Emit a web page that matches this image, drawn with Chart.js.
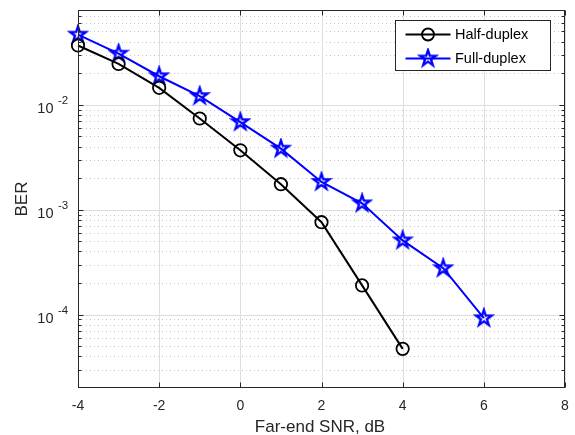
<!DOCTYPE html>
<html><head><meta charset="utf-8">
<script src="https://cdn.jsdelivr.net/npm/chart.js@4/dist/chart.umd.min.js"></script>
<style>html,body{margin:0;padding:0;background:#fff;}</style>
</head><body>
<canvas id="c" width="575" height="435"></canvas>
<script>
// ---- data ----
const snr = [-4, -3, -2, -1, 0, 1, 2, 3, 4, 5, 6];
const halfDuplex = [0.0367, 0.0245, 0.0145, 0.0074, 0.00368, 0.00175, 0.00076, 0.00019, 0.0000472];
const fullDuplex = [0.0466, 0.0307, 0.0187, 0.0121, 0.00684, 0.00382, 0.00184, 0.00115, 0.00051, 0.000277, 0.0000925];
const seriesLabels = ['Half-duplex', 'Full-duplex'];
const xTicks = [-4, -2, 0, 2, 4, 6, 8];
const yMajorExps = [-4, -3, -2];
const xTitle = 'Far-end SNR, dB';
const yTitle = 'BER';

const FONT = '"Liberation Sans", Arial, Helvetica, sans-serif';
const AX = '#262626';

function minorVals() {
  const v = [];
  for (let e = -5; e <= -2; e++) for (let m = 2; m <= 9; m++) {
    const val = m * Math.pow(10, e);
    if (val > 2.01e-5 && val < 0.0799) v.push(val);
  }
  return v;
}

function makeStar(size, R, lw, color) {
  const c = document.createElement('canvas');
  c.width = size; c.height = size;
  const g = c.getContext('2d');
  const cx = size / 2, cy = size / 2, r = R * 0.382;
  g.beginPath();
  for (let i = 0; i < 10; i++) {
    const ang = -Math.PI / 2 + i * Math.PI / 5;
    const rr = i % 2 === 0 ? R : r;
    const px = cx + rr * Math.cos(ang), py = cy + rr * Math.sin(ang);
    if (i === 0) g.moveTo(px, py); else g.lineTo(px, py);
  }
  g.closePath();
  g.lineJoin = 'miter';
  g.strokeStyle = color; g.lineWidth = lw; g.stroke();
  return c;
}
const starImg = makeStar(22, 8.3, 2.3, '#0000ff');

const gridPlugin = {
  id: 'matlabGrid',
  beforeDatasetsDraw(chart) {
    const {ctx, chartArea: a, scales: {x, y}} = chart;
    ctx.save();
    ctx.lineWidth = 1;
    ctx.strokeStyle = '#c8c8c8';
    ctx.setLineDash([1, 3]);
    for (const v of minorVals()) {
      const py = Math.round(y.getPixelForValue(v)) + 0.5;
      ctx.beginPath(); ctx.moveTo(a.left, py); ctx.lineTo(a.right, py); ctx.stroke();
    }
    ctx.setLineDash([]);
    ctx.strokeStyle = '#dedede';
    for (const t of xTicks) {
      const px = Math.round(x.getPixelForValue(t)) + 0.5;
      ctx.beginPath(); ctx.moveTo(px, a.top); ctx.lineTo(px, a.bottom); ctx.stroke();
    }
    for (const e of yMajorExps) {
      const py = Math.round(y.getPixelForValue(Math.pow(10, e))) + 0.5;
      ctx.beginPath(); ctx.moveTo(a.left, py); ctx.lineTo(a.right, py); ctx.stroke();
    }
    ctx.restore();
  },
  afterDatasetsDraw(chart) {
    const {ctx, chartArea: a, scales: {x, y}} = chart;
    ctx.save();
    ctx.strokeStyle = AX; ctx.lineWidth = 1;
    const L = a.left + 0.5, R = a.right - 0.5, T = a.top + 0.5, B = a.bottom - 0.5;
    ctx.strokeRect(L, T, R - L, B - T);
    // ticks
    ctx.beginPath();
    for (const t of xTicks) {
      const px = Math.round(x.getPixelForValue(t)) + 0.5;
      ctx.moveTo(px, B); ctx.lineTo(px, B - 5);
      ctx.moveTo(px, T); ctx.lineTo(px, T + 5);
    }
    for (const e of yMajorExps) {
      const py = Math.round(y.getPixelForValue(Math.pow(10, e))) + 0.5;
      ctx.moveTo(L, py); ctx.lineTo(L + 5, py);
      ctx.moveTo(R, py); ctx.lineTo(R - 5, py);
    }
    for (const v of minorVals()) {
      const py = Math.round(y.getPixelForValue(v)) + 0.5;
      ctx.moveTo(L, py); ctx.lineTo(L + 3, py);
      ctx.moveTo(R, py); ctx.lineTo(R - 3, py);
    }
    ctx.stroke();

    // tick labels
    ctx.fillStyle = AX;
    ctx.font = '14px ' + FONT;
    ctx.textAlign = 'center'; ctx.textBaseline = 'middle';
    for (const t of xTicks) {
      ctx.fillText(String(t), x.getPixelForValue(t), 406.5);
    }
    for (const e of yMajorExps) {
      const py = y.getPixelForValue(Math.pow(10, e));
      ctx.textBaseline = 'alphabetic';
      ctx.font = '14.5px ' + FONT; ctx.textAlign = 'right';
      ctx.fillText('10', 53.5, py + 8);
      ctx.font = '11.5px ' + FONT; ctx.textAlign = 'left';
      ctx.fillText(String(e), 58, py - 1);
    }
    // axis titles
    ctx.font = '17px ' + FONT;
    ctx.textAlign = 'center'; ctx.textBaseline = 'middle';
    ctx.fillText(xTitle, 320, 427);
    ctx.save();
    ctx.translate(22, (a.top + a.bottom) / 2);
    ctx.rotate(-Math.PI / 2);
    ctx.fillText(yTitle, 0, 0);
    ctx.restore();

    // legend
    const bx = 395.5, by = 20.5, bw = 155, bh = 50;
    ctx.fillStyle = '#ffffff';
    ctx.fillRect(bx, by, bw, bh);
    ctx.strokeStyle = AX; ctx.lineWidth = 1;
    ctx.strokeRect(bx, by, bw, bh);
    const rows = [34.5, 58.5];
    const ds = chart.data.datasets;
    rows.forEach((ry, i) => {
      ctx.strokeStyle = ds[i].borderColor; ctx.lineWidth = ds[i].borderWidth;
      ctx.beginPath(); ctx.moveTo(405.5, ry); ctx.lineTo(450.5, ry); ctx.stroke();
      if (i === 0) {
        ctx.lineWidth = 1.8;
        ctx.beginPath(); ctx.arc(428, ry, 6, 0, Math.PI * 2); ctx.stroke();
      } else {
        ctx.drawImage(starImg, 428 - 11, ry - 11);
      }
      ctx.fillStyle = '#000';
      ctx.font = '14.5px ' + FONT; ctx.textAlign = 'left'; ctx.textBaseline = 'middle';
      ctx.fillText(seriesLabels[i], 455, ry);
    });
    ctx.restore();
  }
};

new Chart(document.getElementById('c'), {
  type: 'line',
  data: {
    datasets: [
      {
        label: seriesLabels[0],
        data: halfDuplex.map((v, i) => ({x: snr[i], y: v})),
        borderColor: '#000000', borderWidth: 2,
        pointStyle: 'circle', pointRadius: 6.2, pointBorderWidth: 1.8,
        pointBorderColor: '#000000', pointBackgroundColor: 'rgba(0,0,0,0)',
        tension: 0, clip: false
      },
      {
        label: seriesLabels[1],
        data: fullDuplex.map((v, i) => ({x: snr[i], y: v})),
        borderColor: '#0000ff', borderWidth: 2,
        pointStyle: starImg, pointRadius: 8,
        pointBorderColor: '#0000ff', pointBackgroundColor: 'rgba(0,0,0,0)',
        tension: 0, clip: false
      }
    ]
  },
  options: {
    responsive: false, animation: false, devicePixelRatio: 1,
    layout: {padding: {top: 10, right: 8, left: 0, bottom: 0}},
    plugins: {legend: {display: false}, tooltip: {enabled: false}},
    scales: {
      x: {
        type: 'linear', min: -4, max: 8,
        ticks: {display: false}, grid: {display: false}, border: {display: false},
        afterFit(s) { s.height = 47; }
      },
      y: {
        type: 'logarithmic', min: 2e-5, max: 0.08,
        ticks: {display: false}, grid: {display: false}, border: {display: false},
        afterFit(s) { s.width = 78; }
      }
    }
  },
  plugins: [gridPlugin]
});
</script>
</body></html>
